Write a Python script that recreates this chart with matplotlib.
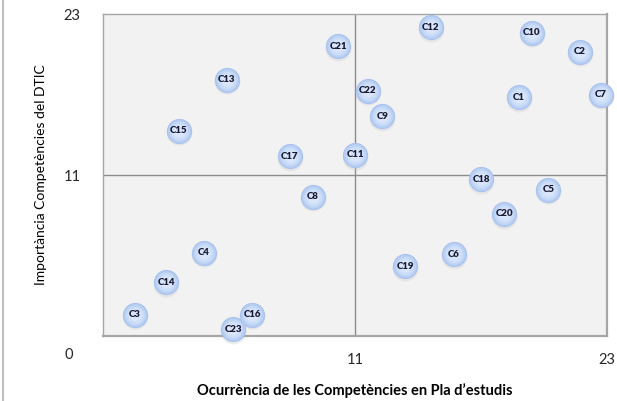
import matplotlib.pyplot as plt
from matplotlib.lines import Line2D

# competency codes and their positions (ocurrencia, importancia)
labels = ['C1', 'C2', 'C3', 'C4', 'C5', 'C6', 'C7', 'C8', 'C9', 'C10', 'C11', 'C12',
          'C13', 'C14', 'C15', 'C16', 'C17', 'C18', 'C19', 'C20', 'C21', 'C22', 'C23']
ocurrencia = [18.8, 21.7, 0.5, 3.8, 20.2, 15.7, 22.7, 9.0, 12.3, 19.4, 11.0, 14.6,
              4.9, 2.0, 2.6, 6.1, 7.9, 17.0, 13.4, 18.1, 10.2, 11.6, 5.2]
importancia = [16.8, 20.2, 0.6, 5.2, 9.9, 5.1, 17.0, 9.4, 15.4, 21.6, 12.5, 22.0,
               18.1, 3.0, 14.3, 0.6, 12.4, 10.7, 4.2, 8.1, 20.6, 17.3, -0.5]
ticks = [11, 23]

plt.rcParams['font.family'] = ['Lato', 'DejaVu Sans']

fig = plt.figure(figsize=(6.17, 4.01), dpi=100)
ax = fig.add_axes([0.167, 0.162, 0.817, 0.803])
ax.set_xlim(-1, 23)
ax.set_ylim(-1, 23)
ax.set_facecolor('#f2f2f2')
for s in ax.spines.values():
    s.set_color('#a6a6a6')
    s.set_linewidth(1.0)
ax.spines['bottom'].set_linewidth(1.6)
ax.spines['right'].set_linewidth(1.6)

# quadrant lines
ax.axvline(11, color='#8c8c8c', lw=1.0, zorder=1)
ax.axhline(11, color='#8c8c8c', lw=1.0, zorder=1)

# bubbles: soft shadow + layered gradient
ax.scatter(ocurrencia, [v - 0.12 for v in importancia], s=350, color='#c8c8c8',
           alpha=0.3, lw=0, zorder=2, clip_on=False)
layers = [(330, '#a9c3ef'), (280, '#b5ccf2'), (220, '#c1d5f5'), (150, '#cddef8'), (80, '#d8e5fa')]
for size, col in layers:
    ax.scatter(ocurrencia, importancia, s=size, color=col, lw=0, zorder=3, clip_on=False)

for lab, x, y in zip(labels, ocurrencia, importancia):
    ax.text(x, y, lab, ha='center', va='center', fontsize=7, fontweight='heavy',
            color='#1a1a33', zorder=4, clip_on=False)

ax.set_xticks(ticks)
ax.set_yticks(ticks)
ax.tick_params(length=0, labelsize=10.5, labelcolor='#262626')
ax.tick_params(axis='x', pad=12)
ax.tick_params(axis='y', pad=16)
ax.text(-2.65, -2.45, '0', ha='center', va='center', fontsize=10.5, color='#262626',
        clip_on=False)

ax.set_xlabel('Ocurrència de les Competències en Pla d\u2019estudis', fontsize=10.5,
              fontweight='bold', labelpad=12)
ax.set_ylabel('Importància Competències del DTIC', fontsize=10, labelpad=12)

# outer frame edge on the left
fig.add_artist(Line2D([0.005, 0.005], [0, 1], color='#bfbfbf', lw=1.5, transform=fig.transFigure))

fig.savefig('out.png', dpi=100)
